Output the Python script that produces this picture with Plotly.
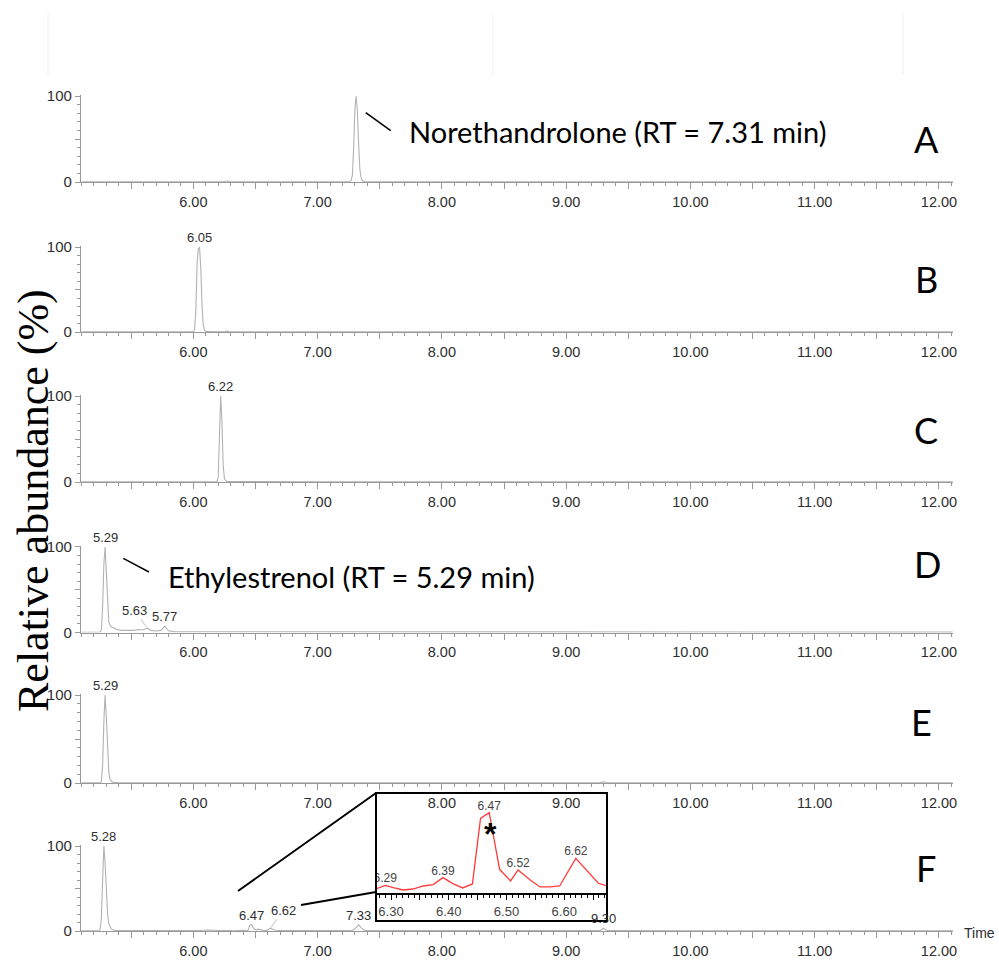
import plotly.graph_objects as go

W, H = 999, 960


def fx(p):
    return p / W


def fy(p):
    return 1 - p / H


# ---- chromatogram data: retention time (min) and relative abundance (%) ----
a_time = [5.10, 5.50, 6.00, 6.24, 6.27, 6.30, 6.80, 7.10, 7.20, 7.26, 7.27, 7.28, 7.29, 7.30,
          7.31, 7.32, 7.33, 7.34, 7.35, 7.36, 7.38, 7.60, 8.00, 8.20, 8.50, 9.00, 10.00, 11.00, 12.11]
a_abund = [0.3, 0.3, 0.3, 0.3, 1.2, 0.3, 0.3, 0.5, 0.4, 0.5, 2, 8, 40, 85,
           100, 82, 45, 15, 5, 1.5, 0.5, 0.3, 0.4, 0.6, 0.3, 0.3, 0.3, 0.3, 0.3]

b_time = [5.10, 5.60, 6.00, 6.01, 6.02, 6.03, 6.04, 6.05, 6.06, 6.07, 6.08, 6.09, 6.11,
          6.25, 6.27, 6.29, 7.00, 8.00, 9.00, 10.00, 11.00, 12.11]
b_abund = [0.3, 0.3, 0.3, 3, 25, 80, 98, 100, 75, 30, 8, 2, 0.4,
           0.3, 1.0, 0.3, 0.3, 0.3, 0.3, 0.3, 0.3, 0.3]

c_time = [5.10, 5.80, 6.19, 6.20, 6.21, 6.22, 6.23, 6.24, 6.25, 6.27, 7.00, 8.00, 9.00,
          10.00, 11.00, 12.11]
c_abund = [0.3, 0.3, 0.3, 5, 45, 100, 70, 20, 4, 0.5, 0.3, 0.3, 0.3, 0.3, 0.3, 0.3]

d_time = [5.10, 5.20, 5.25, 5.26, 5.27, 5.28, 5.29, 5.30, 5.31, 5.32, 5.335, 5.36, 5.385,
          5.42, 5.48, 5.52, 5.56, 5.59, 5.63, 5.66, 5.70, 5.74, 5.77, 5.80, 5.85, 5.95, 6.10,
          6.30, 6.60, 6.80, 7.00, 7.50, 8.00, 9.00, 10.00, 11.00, 12.11]
d_abund = [0.3, 0.3, 0.5, 3, 30, 80, 100, 70, 35, 12, 7, 5, 3.5,
           2.5, 2, 2.5, 3.5, 3, 5, 2.5, 1.8, 2.5, 7.5, 2, 1, 1, 0.8,
           0.8, 0.6, 1.0, 0.6, 0.5, 0.5, 0.5, 0.5, 0.5, 0.5]

e_time = [5.10, 5.25, 5.26, 5.27, 5.28, 5.29, 5.30, 5.31, 5.32, 5.33, 5.35, 5.40, 6.00,
          7.00, 8.00, 9.00, 9.28, 9.30, 9.32, 10.00, 11.00, 12.11]
e_abund = [0.3, 0.3, 2, 20, 70, 100, 75, 35, 12, 4, 1, 0.3, 0.3,
           0.3, 0.3, 0.3, 0.3, 1.5, 0.3, 0.3, 0.3, 0.3]

f_time = [5.10, 5.24, 5.25, 5.26, 5.27, 5.28, 5.29, 5.30, 5.31, 5.32, 5.34, 5.37, 5.60,
          5.90, 6.05, 6.12, 6.15, 6.18, 6.22,
          6.274, 6.290, 6.304, 6.321, 6.338, 6.356, 6.373, 6.390, 6.407, 6.424, 6.441,
          6.455, 6.470, 6.488, 6.507, 6.520, 6.541, 6.558, 6.575, 6.592, 6.620, 6.659, 6.674,
          6.70, 6.90, 7.10, 7.28, 7.31, 7.33, 7.35, 7.38, 7.60, 8.00, 9.00, 9.27, 9.30,
          9.33, 10.00, 11.00, 12.11]
f_abund = [0.3, 0.3, 2, 15, 60, 100, 80, 45, 20, 8, 2.5, 0.5, 0.4,
           0.5, 0.6, 1.2, 0.8, 1.2, 0.5,
           0.40, 0.74, 0.53, 0.31, 0.40, 0.68, 0.81, 1.46, 0.90, 0.50, 0.87,
           6.97, 7.50, 2.23, 1.15, 2.17, 1.24, 0.59, 0.59, 0.68, 3.25, 0.93, 0.68,
           0.5, 0.4, 0.4, 0.6, 4, 7.5, 4, 0.6, 0.4, 0.4, 0.3, 0.4, 3,
           0.4, 0.3, 0.3, 0.3]

# labelled peaks (retention times) per channel
a_peaks = []
b_peaks = [6.05]
c_peaks = [6.22]
d_peaks = [5.29, 5.63, 5.77]
e_peaks = [5.29]
f_peaks = [5.28, 6.47, 6.62, 7.33, 9.30]
inset_peaks = [6.29, 6.39, 6.47, 6.52, 6.62]
inset_window = (6.274, 6.674)

panel_letters = ["A", "B", "C", "D", "E", "F"]
x_major = [5.5, 6.0, 6.5, 7.0, 7.5, 8.0, 8.5, 9.0, 9.5, 10.0, 10.5, 11.0, 11.5, 12.0]
inset_major = [6.30, 6.35, 6.40, 6.45, 6.50, 6.55, 6.60, 6.65]

panels = [
    (a_time, a_abund, a_peaks),
    (b_time, b_abund, b_peaks),
    (c_time, c_abund, c_peaks),
    (d_time, d_abund, d_peaks),
    (e_time, e_abund, e_peaks),
    (f_time, f_abund, f_peaks),
]

# ---- layout geometry (pixels) ----
base_px = [182, 332, 482, 632.5, 783, 931]   # 0 % line of each panel
top_px = [96, 247, 396, 547, 695, 846]       # 100 % line of each panel
x_left, x_right = 81, 953
x_range = [5.096, 12.113]
letter_pos = [(926, 139), (926, 279), (926, 430), (927, 564), (921, 722), (926, 868)]

AXIS = "#999999"
TRACE = "#b2b2b2"
TXT = "#2e2e2e"
SANS = "Liberation Sans, Arial, sans-serif"

fig = go.Figure()
layout = dict(
    template="none",
    width=W, height=H, margin=dict(l=0, r=0, t=0, b=0, pad=0, autoexpand=False),
    paper_bgcolor="white", plot_bgcolor="rgba(0,0,0,0)",
    showlegend=False,
)
annotations = []
shapes = []

for i, (t, v, peaks) in enumerate(panels):
    n = i + 1
    xa = "x" if n == 1 else f"x{n}"
    ya = "y" if n == 1 else f"y{n}"
    fig.add_trace(go.Scatter(x=t, y=v, mode="lines", xaxis=xa, yaxis=ya,
                             line=dict(color=TRACE, width=1.1), hoverinfo="skip"))
    y0, y1 = base_px[i], top_px[i]
    span = y0 - y1
    layout["xaxis" if n == 1 else f"xaxis{n}"] = dict(
        domain=[fx(x_left), fx(x_right)], range=x_range, anchor=ya, automargin=False,
        showline=True, linecolor=AXIS, linewidth=1.2, showgrid=False, zeroline=False,
        ticks="outside", ticklen=6, tickcolor=AXIS, tickwidth=1,
        tickmode="array", tickvals=x_major,
        ticktext=[f"{x:.2f}" if abs(x - round(x)) < 1e-9 else "" for x in x_major],
        tickfont=dict(family=SANS, size=14.5, color=TXT),
        minor=dict(tickmode="linear", tick0=0, dtick=0.1, ticks="outside",
                   ticklen=3, tickcolor=AXIS, tickwidth=1),
    )
    layout["yaxis" if n == 1 else f"yaxis{n}"] = dict(
        domain=[fy(y0), fy(y0 - span * 1.01)], range=[0, 101], anchor=xa, automargin=False,
        showline=True, linecolor=AXIS, linewidth=1.2, showgrid=False, zeroline=False,
        ticks="outside", ticklen=5, tickcolor=AXIS, tickwidth=1,
        tickmode="array", tickvals=[0, 50, 100], ticktext=["0", "", "100"],
        tickfont=dict(family=SANS, size=15, color=TXT),
        minor=dict(tickmode="linear", tick0=0, dtick=10, ticks="outside",
                   ticklen=3, tickcolor=AXIS, tickwidth=1),
    )
    # peak labels
    for p in peaks:
        k = min(range(len(t)), key=lambda j: abs(t[j] - p))
        ann = dict(x=t[k], y=v[k], xref=xa, yref=ya, text=f"{p:.2f}",
                   font=dict(family=SANS, size=13, color=TXT))
        if (n == 4 and p == 5.63) or (n == 6 and p == 6.62):
            ann.update(showarrow=True, arrowhead=0, arrowwidth=0.8, arrowcolor="#b0b0b0",
                       ax=-13 if n == 4 else 13, ay=-18, standoff=1)
        else:
            ann.update(showarrow=False, yanchor="bottom", yshift=0)
        annotations.append(ann)
    # panel letter
    lx, ly = letter_pos[i]
    annotations.append(dict(x=fx(lx), y=fy(ly), xref="paper", yref="paper", showarrow=False,
                            text=panel_letters[i], xanchor="center", yanchor="middle",
                            font=dict(family="Lato, sans-serif", size=36, color="black")))

# ---- inset: zoomed view of channel F ----
in_t = [x for x in f_time if inset_window[0] <= x <= inset_window[1]]
in_v = [f_abund[f_time.index(x)] for x in in_t]
fig.add_trace(go.Scatter(x=in_t, y=in_v, mode="lines", xaxis="x7", yaxis="y7",
                         line=dict(color="#ff3b3b", width=1.3), hoverinfo="skip"))
lab_t = [min(in_t, key=lambda x: abs(x - p)) for p in inset_peaks]
lab_v = [in_v[in_t.index(x)] for x in lab_t]
fig.add_trace(go.Scatter(x=lab_t, y=lab_v, mode="text", xaxis="x7", yaxis="y7",
                         text=[f"{p:.2f}" for p in inset_peaks], textposition="top center",
                         cliponaxis=True, hoverinfo="skip",
                         textfont=dict(family=SANS, size=12, color="#444444")))
layout["xaxis7"] = dict(
    domain=[fx(376), fx(607)], range=list(inset_window), anchor="y7", automargin=False,
    showline=True, linecolor="black", linewidth=1.5, showgrid=False, zeroline=False,
    ticks="outside", ticklen=5, tickcolor="black", tickwidth=1,
    tickmode="array", tickvals=inset_major,
    ticktext=[f"{x:.2f}" if abs(x * 10 - round(x * 10)) < 1e-6 else "" for x in inset_major],
    tickfont=dict(family=SANS, size=13, color="#444444"),
    minor=dict(tickmode="linear", tick0=0, dtick=0.01, ticks="outside",
               ticklen=3, tickcolor="black", tickwidth=1),
)
layout["yaxis7"] = dict(domain=[fy(893.3), fy(793.3)], range=[0, 9.3], anchor="x7",
                        visible=False, automargin=False)
annotations.append(dict(x=6.472, y=5.5, xref="x7", yref="y7", text="<b>*</b>", showarrow=False,
                        font=dict(family=SANS, size=32, color="black")))
shapes.append(dict(type="rect", xref="paper", yref="paper", x0=fx(376), x1=fx(607),
                   y0=fy(921), y1=fy(793), line=dict(color="black", width=2)))
shapes.append(dict(type="line", xref="paper", yref="paper", x0=fx(238), y0=fy(891),
                   x1=fx(376), y1=fy(793), line=dict(color="black", width=2)))
shapes.append(dict(type="line", xref="paper", yref="paper", x0=fx(301), y0=fy(905),
                   x1=fx(376), y1=fy(892), line=dict(color="black", width=2)))

# ---- compound call-outs ----
annotations.append(dict(x=fx(407), y=fy(131), xref="paper", yref="paper", showarrow=False,
                        text="Norethandrolone (RT = 7.31 min)", xanchor="left", yanchor="middle",
                        font=dict(family="Lato, sans-serif", size=29, color="black")))
shapes.append(dict(type="line", xref="paper", yref="paper", x0=fx(365.7), y0=fy(112.7),
                   x1=fx(390.7), y1=fy(130.7), line=dict(color="black", width=1.5)))
annotations.append(dict(x=fx(166), y=fy(576), xref="paper", yref="paper", showarrow=False,
                        text="Ethylestrenol (RT = 5.29 min)", xanchor="left", yanchor="middle",
                        font=dict(family="Lato, sans-serif", size=29, color="black")))
shapes.append(dict(type="line", xref="paper", yref="paper", x0=fx(123.3), y0=fy(558.3),
                   x1=fx(149), y1=fy(572), line=dict(color="black", width=1.5)))

# ---- axis titles ----
annotations.append(dict(x=fx(33), y=fy(501), xref="paper", yref="paper", showarrow=False,
                        text="Relative abundance (%)", textangle=-90,
                        xanchor="center", yanchor="middle",
                        font=dict(family="Liberation Serif, Times New Roman, serif", size=44,
                                  color="black")))
annotations.append(dict(x=fx(962), y=fy(933), xref="paper", yref="paper", showarrow=False,
                        text="Time", xanchor="left", yanchor="middle",
                        font=dict(family=SANS, size=14, color=TXT)))

# faint frame marks along the top edge
for xp in (48, 493, 903):
    shapes.append(dict(type="line", xref="paper", yref="paper", x0=fx(xp), x1=fx(xp),
                       y0=fy(14), y1=fy(75), line=dict(color="#f0f0f0", width=1)))

layout["annotations"] = annotations
layout["shapes"] = shapes
fig.update_layout(**layout)
fig.write_html("out.html")
